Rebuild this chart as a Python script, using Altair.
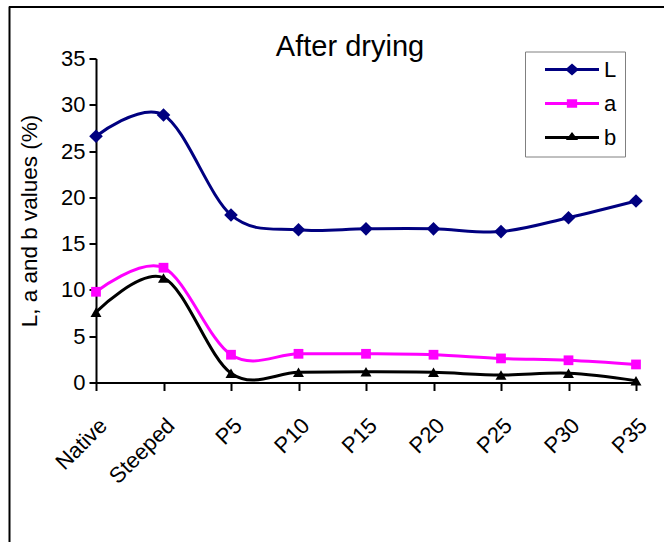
import altair as alt
import pandas as pd

# Colour readings (%) of the samples after drying
samples = ["Native", "Steeped", "P5", "P10", "P15", "P20", "P25", "P30", "P35"]
L_values = [26.6, 28.9, 18.1, 16.5, 16.6, 16.6, 16.3, 17.8, 19.6]
a_values = [9.8, 12.4, 3.0, 3.1, 3.1, 3.0, 2.6, 2.4, 1.95]
b_values = [7.6, 11.3, 1.0, 1.1, 1.15, 1.1, 0.8, 1.0, 0.2]

series_names = ["L", "a", "b"]
series_colors = ["#000080", "#FF00FF", "#000000"]
series_shapes = ["diamond", "square", "triangle-up"]
series_sizes = [185, 95, 120]
# Legend keys: a short line with the series marker in its middle
# (unit square path, scaled by the legend symbol size)
key_paths = [
    "M-1,0L1,0M-0.17,0L0,-0.15L0.17,0L0,0.15Z",
    "M-1,0L1,0M-0.135,-0.1L0.135,-0.1L0.135,0.1L-0.135,0.1Z",
    "M-1,0L1,0M-0.115,0.04L0.115,0.04L0,-0.11Z",
]
y_ticks = [0, 5, 10, 15, 20, 25, 30, 35]

FONT = "Liberation Sans"

rows = []
for name, vals, col, shp, sz in zip(
    series_names, [L_values, a_values, b_values], series_colors, series_shapes, series_sizes
):
    for s, v in zip(samples, vals):
        rows.append({"sample": s, "series": name, "value": v,
                     "color": col, "marker": shp, "msize": sz})
df = pd.DataFrame(rows)

x_enc = alt.X(
    "sample:N",
    sort=samples,
    scale=alt.Scale(type="point", padding=0),
    axis=alt.Axis(
        title=None, labelAngle=-45, labelFontSize=22, labelFont=FONT,
        labelColor="black", labelPadding=24, tickSize=8, tickWidth=2,
        tickColor="black", domainColor="black", domainWidth=2, grid=False,
    ),
)
y_enc = alt.Y(
    "value:Q",
    scale=alt.Scale(domain=[0, 35], nice=False),
    axis=alt.Axis(
        values=y_ticks, title="L, a and b values (%)", titleFontSize=22.5,
        titleFont=FONT, titleFontWeight="normal", titleColor="black",
        titlePadding=19, labelFontSize=22, labelFont=FONT, labelColor="black",
        labelPadding=4, tickSize=7, tickWidth=2, tickColor="black",
        domainColor="black", domainWidth=2, grid=False,
    ),
)

# Smoothed series lines
lines = alt.Chart(df).mark_line(interpolate="cardinal", strokeWidth=3).encode(
    x=x_enc,
    y=y_enc,
    detail="series:N",
    stroke=alt.Stroke("color:N", scale=None),
)

# Series markers
points = alt.Chart(df).mark_point(filled=True, opacity=1).encode(
    x=x_enc,
    y=y_enc,
    fill=alt.Fill("color:N", scale=None),
    shape=alt.Shape("marker:N", scale=None),
    size=alt.Size("msize:Q", scale=None),
)

# Legend carrier: no marks of its own, only the series scales
key_legend = alt.Legend(
    title="\u2003", titleOrient="right", titleFontSize=12, titlePadding=0,
    orient="none", legendX=429, legendY=-7,
    symbolSize=2916, symbolStrokeWidth=3,
    clipHeight=20, rowPadding=12, padding=8,
    labelFontSize=22, labelFont=FONT, labelColor="black",
    labelOffset=3.5, symbolOffset=10.5,
    strokeColor="#808080", fillColor="white",
)
legend_layer = (
    alt.Chart(df)
    .transform_filter("false")
    .mark_point(filled=True, opacity=1, strokeWidth=3)
    .encode(
        fill=alt.Fill("series:N", scale=alt.Scale(domain=series_names, range=series_colors),
                      legend=key_legend),
        stroke=alt.Stroke("series:N", scale=alt.Scale(domain=series_names, range=series_colors),
                          legend=key_legend),
        shape=alt.Shape("series:N", scale=alt.Scale(domain=series_names, range=key_paths),
                        legend=key_legend),
    )
)

# Outer frame: top and left edges of the figure box
frame_top = alt.Chart().mark_rule(color="black", strokeWidth=2).encode(
    x=alt.value(-87), x2=alt.value(570), y=alt.value(-51.5)
)
frame_left = alt.Chart().mark_rule(color="black", strokeWidth=2).encode(
    x=alt.value(-86.5), y=alt.value(-52), y2=alt.value(490)
)

chart = (
    alt.layer(frame_top, frame_left, lines, points, legend_layer)
    .properties(
        width=540,
        height=324,
        title=alt.TitleParams(
            "After drying", fontSize=29, font=FONT, fontWeight="normal",
            color="black", anchor="middle", dx=-16, dy=81, offset=2,
            baseline="alphabetic",
        ),
        autosize=alt.AutoSizeParams(type="none"),
        padding={"left": 96, "top": 58.5, "right": 28, "bottom": 159.5},
        background="white",
    )
    .configure_view(stroke=None)
)

chart.save("out.html", embed_options={"renderer": "svg", "actions": False})
